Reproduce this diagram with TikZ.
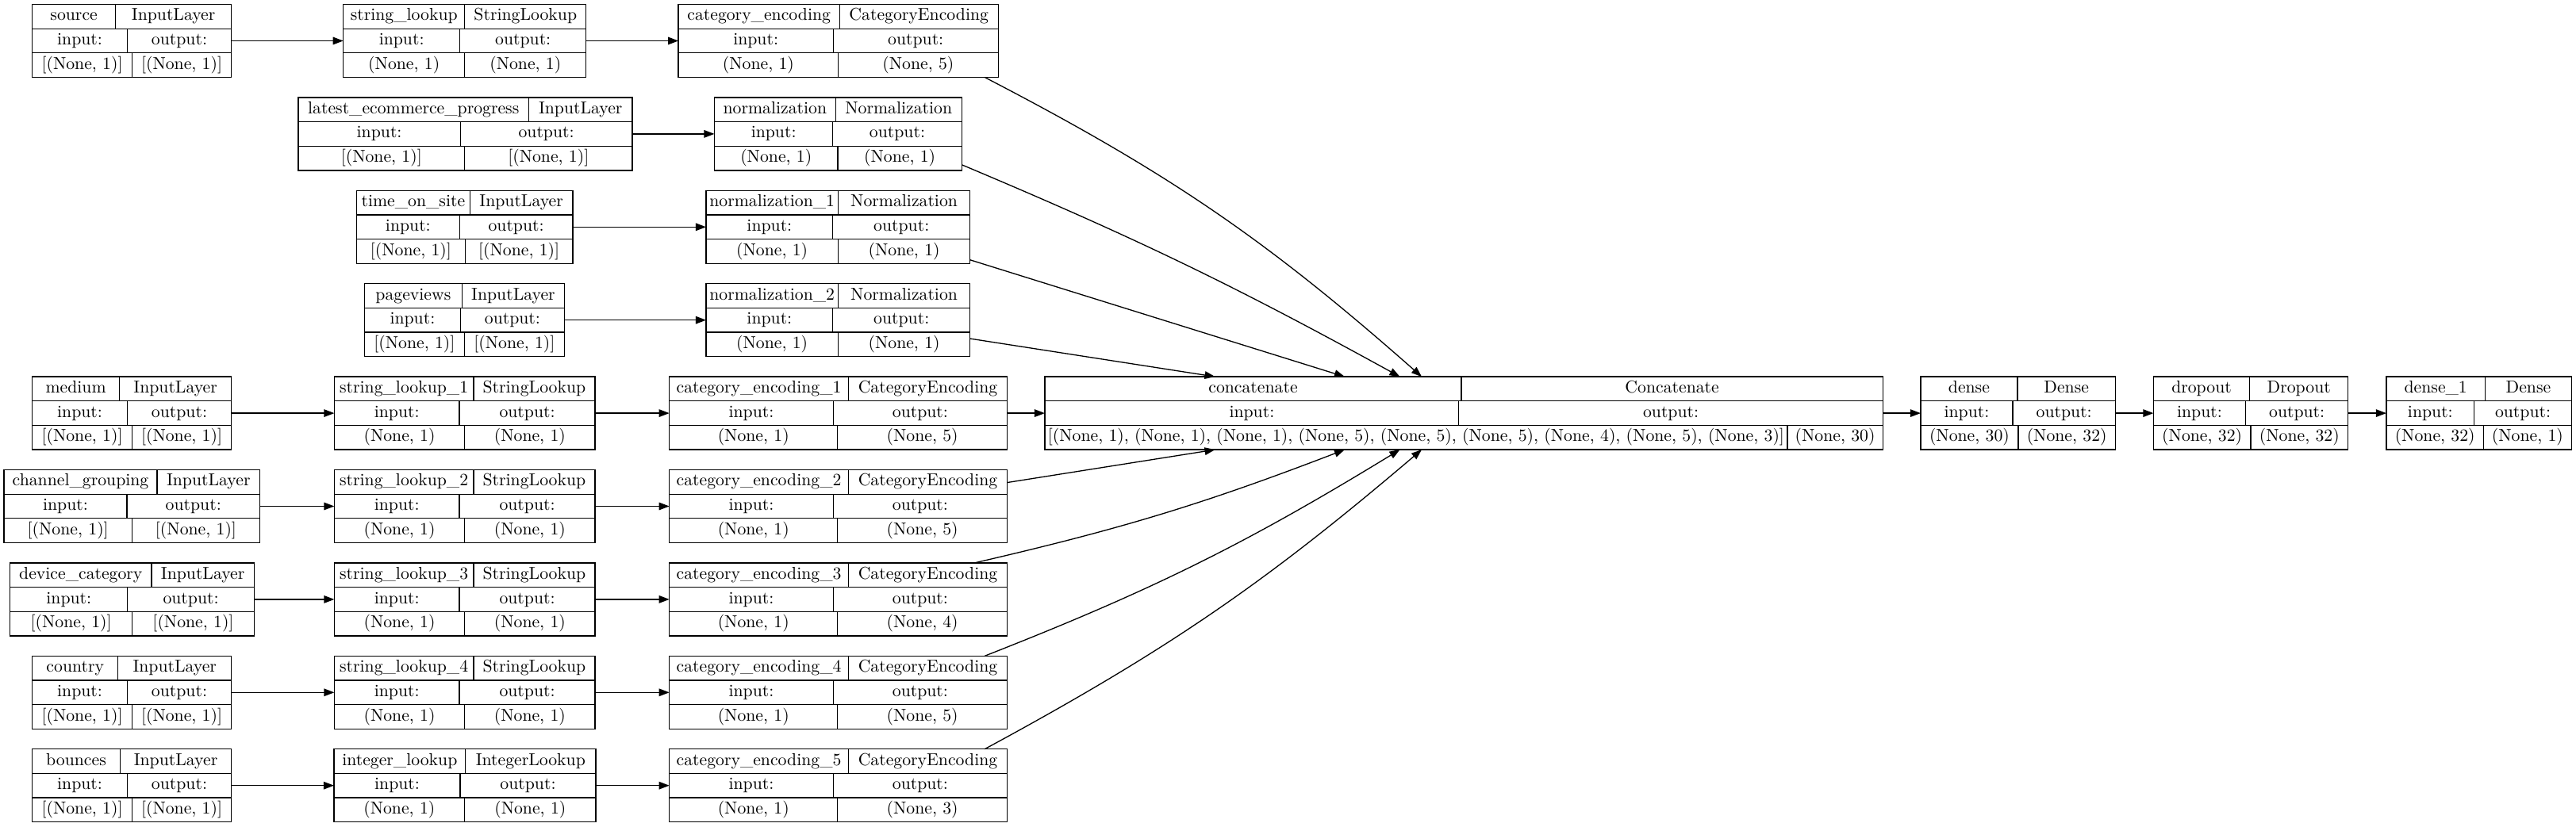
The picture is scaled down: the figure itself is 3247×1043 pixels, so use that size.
\documentclass[tikz,border=0pt]{standalone}
\usetikzlibrary{arrows.meta,calc}

\tikzset{
  layer/.style={draw, line width=0.6pt, inner sep=0pt, outer sep=0pt, minimum height=92*0.46pt},
  cell/.style={line width=0.6pt},
  txt/.style={inner sep=0pt, font=\fontsize{10}{12}\selectfont, text height=7pt, text depth=2.3pt},
  edge/.style={line width=0.6pt, -{Triangle[length=6pt,width=4.4pt]}},
}

% split positions of the three rows, as fractions of the width
\def\getsplits#1/#2/#3\relax{\def\splitA{#1}\def\splitB{#2}\def\splitC{#3}}

% #1 name, #2 top left corner, #3 width, #4 splits, #5 layer, #6 class, #7 input, #8 output
\newcommand{\layer}[8]{%
  \getsplits#4\relax
  \node[layer, minimum width=#3*0.46pt, anchor=north west] (#1) at (#2) {};
  \draw[cell] ($(#1.north west)+(0,30.67)$) -- ++(#3,0);
  \draw[cell] ($(#1.north west)+(0,61.33)$) -- ++(#3,0);
  \draw[cell] ($(#1.north west)+({\splitA*#3},0)$) -- ++(0,30.67);
  \draw[cell] ($(#1.north west)+({\splitB*#3},30.67)$) -- ++(0,30.67);
  \draw[cell] ($(#1.north west)+({\splitC*#3},61.33)$) -- ++(0,30.67);
  \node[txt] at ($(#1.north west)+({\splitA*#3/2},15.33)$) {#5};
  \node[txt] at ($(#1.north west)+({(1+\splitA)*#3/2},15.33)$) {#6};
  \node[txt] at ($(#1.north west)+({\splitB*#3/2},46)$) {input:};
  \node[txt] at ($(#1.north west)+({(1+\splitB)*#3/2},46)$) {output:};
  \node[txt] at ($(#1.north west)+({\splitC*#3/2},76.67)$) {#7};
  \node[txt] at ($(#1.north west)+({(1+\splitC)*#3/2},76.67)$) {#8};
}

\begin{document}
\begin{tikzpicture}[x=0.46pt, y=-0.46pt]
\useasboundingbox (0,0) rectangle (3247,1043);

% inputs
\layer{src}{40.8,5.5}{251}{.417/.476/.5}{source}{InputLayer}{[(None, 1)]}{[(None, 1)]}
\layer{lep}{376,122.9}{421}{.69/.485/.498}{latest\_ecommerce\_progress}{InputLayer}{[(None, 1)]}{[(None, 1)]}
\layer{tos}{449.5,240.3}{272.5}{.524/.476/.502}{time\_on\_site}{InputLayer}{[(None, 1)]}{[(None, 1)]}
\layer{pv}{459.7,357.7}{252}{.486/.478/.498}{pageviews}{InputLayer}{[(None, 1)]}{[(None, 1)]}
\layer{med}{40.8,475.1}{251}{.437/.476/.5}{medium}{InputLayer}{[(None, 1)]}{[(None, 1)]}
\layer{cg}{5.1,592.5}{322.5}{.598/.48/.5}{channel\_grouping}{InputLayer}{[(None, 1)]}{[(None, 1)]}
\layer{dc}{12.8,709.9}{307.6}{.579/.481/.5}{device\_category}{InputLayer}{[(None, 1)]}{[(None, 1)]}
\layer{ctry}{40.8,827.3}{251}{.43/.476/.5}{country}{InputLayer}{[(None, 1)]}{[(None, 1)]}
\layer{bn}{40.8,944.7}{251}{.44/.476/.5}{bounces}{InputLayer}{[(None, 1)]}{[(None, 1)]}

% lookups
\layer{sl}{432.7,5.5}{306.1}{.5/.48/.5}{string\_lookup}{StringLookup}{(None, 1)}{(None, 1)}
\layer{sl1}{421.4,475.1}{328.6}{.534/.48/.5}{string\_lookup\_1}{StringLookup}{(None, 1)}{(None, 1)}
\layer{sl2}{421.4,592.5}{328.6}{.534/.48/.5}{string\_lookup\_2}{StringLookup}{(None, 1)}{(None, 1)}
\layer{sl3}{421.4,709.9}{328.6}{.534/.48/.5}{string\_lookup\_3}{StringLookup}{(None, 1)}{(None, 1)}
\layer{sl4}{421.4,827.3}{328.6}{.534/.48/.5}{string\_lookup\_4}{StringLookup}{(None, 1)}{(None, 1)}
\layer{il}{421,944.7}{330}{.502/.482/.499}{integer\_lookup}{IntegerLookup}{(None, 1)}{(None, 1)}

% encodings and normalizations
\layer{ce}{855.1,5.5}{403.1}{.504/.484/.5}{category\_encoding}{CategoryEncoding}{(None, 1)}{(None, 5)}
\layer{nm}{900.5,122.9}{311.7}{.49/.479/.499}{normalization}{Normalization}{(None, 1)}{(None, 1)}
\layer{nm1}{890,240.3}{332.8}{.5/.48/.5}{normalization\_1}{Normalization}{(None, 1)}{(None, 1)}
\layer{nm2}{890,357.7}{332.8}{.5/.48/.5}{normalization\_2}{Normalization}{(None, 1)}{(None, 1)}
\layer{ce1}{843.7,475.1}{425.9}{.53/.485/.498}{category\_encoding\_1}{CategoryEncoding}{(None, 1)}{(None, 5)}
\layer{ce2}{843.7,592.5}{425.9}{.53/.485/.498}{category\_encoding\_2}{CategoryEncoding}{(None, 1)}{(None, 5)}
\layer{ce3}{843.7,709.9}{425.9}{.53/.485/.498}{category\_encoding\_3}{CategoryEncoding}{(None, 1)}{(None, 4)}
\layer{ce4}{843.7,827.3}{425.9}{.53/.485/.498}{category\_encoding\_4}{CategoryEncoding}{(None, 1)}{(None, 5)}
\layer{ce5}{843.7,944.7}{425.9}{.53/.485/.498}{category\_encoding\_5}{CategoryEncoding}{(None, 1)}{(None, 3)}

% head
\layer{cc}{1317,475.1}{1056.3}{.497/.494/.886}{concatenate}{Concatenate}{[(None, 1), (None, 1), (None, 1), (None, 5), (None, 5), (None, 5), (None, 4), (None, 5), (None, 3)]}{(None, 30)}
\layer{dn}{2420.9,475.1}{245.5}{.497/.473/.501}{dense}{Dense}{(None, 30)}{(None, 32)}
\layer{dr}{2714.4,475.1}{245.4}{.494/.473/.499}{dropout}{Dropout}{(None, 32)}{(None, 32)}
\layer{dn1}{3007.9,475.1}{233.4}{.534/.475/.525}{dense\_1}{Dense}{(None, 32)}{(None, 1)}

\draw[edge] (src) -- (sl);
\draw[edge] (sl) -- (ce);
\draw[edge] (lep) -- (nm);
\draw[edge] (tos) -- (nm1);
\draw[edge] (pv) -- (nm2);
\draw[edge] (med) -- (sl1);
\draw[edge] (sl1) -- (ce1);
\draw[edge] (cg) -- (sl2);
\draw[edge] (sl2) -- (ce2);
\draw[edge] (dc) -- (sl3);
\draw[edge] (sl3) -- (ce3);
\draw[edge] (ctry) -- (sl4);
\draw[edge] (sl4) -- (ce4);
\draw[edge] (bn) -- (il);
\draw[edge] (il) -- (ce5);

% into concatenate
\draw[edge] (ce.-14.2) to[bend left=7] ($(cc.north west)+(475,0)$);
\draw[edge] (nm.-14.2) to[bend left=3] ($(cc.north west)+(447.5,0)$);
\draw[edge] (nm1.-14.5) -- ($(cc.north west)+(378,0)$);
\draw[edge] (nm2.-8.6) -- ($(cc.north west)+(214.6,0)$);
\draw[edge] (ce1) -- (cc);
\draw[edge] (ce2.8.7) -- ($(cc.south west)+(214.6,0)$);
\draw[edge] (ce3.15.3) to[bend right=4] ($(cc.south west)+(378,0)$);
\draw[edge] (ce4.14.5) to[bend right=5] ($(cc.south west)+(447.5,0)$);
\draw[edge] (ce5.14) to[bend right=6] ($(cc.south west)+(475,0)$);

\draw[edge] (cc) -- (dn);
\draw[edge] (dn) -- (dr);
\draw[edge] (dr) -- (dn1);
\end{tikzpicture}
\end{document}
